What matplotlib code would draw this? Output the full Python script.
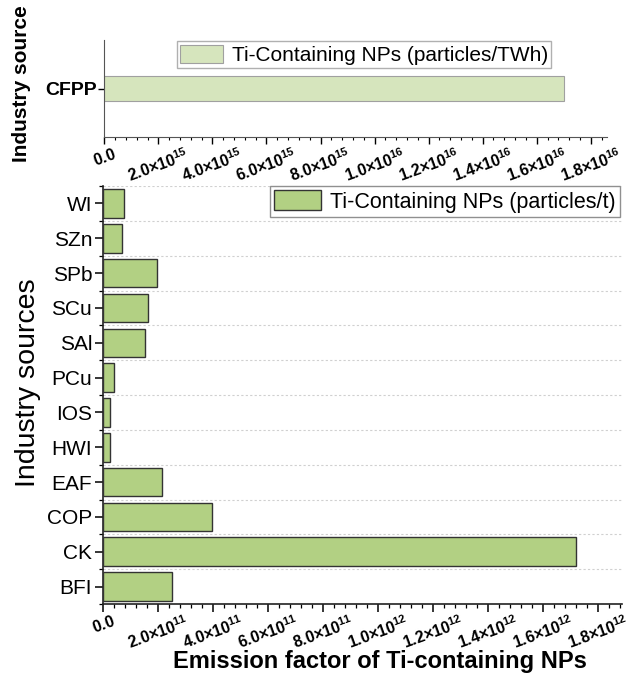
import matplotlib
matplotlib.use('Agg')
from matplotlib import pyplot as plt
from matplotlib.ticker import FuncFormatter, MultipleLocator, FixedLocator
import numpy as np

plt.rcParams['font.family'] = ['Liberation Sans', 'DejaVu Sans']
plt.rcParams['mathtext.fontset'] = 'custom'
plt.rcParams['mathtext.rm'] = 'Liberation Sans'
plt.rcParams['mathtext.bf'] = 'Liberation Sans:bold'

# data
top_source = ['CFPP']
top_values = [1.70e16]
top_legend = 'Ti-Containing NPs (particles/TWh)'

sources = ['BFI', 'CK', 'COP', 'EAF', 'HWI', 'IOS', 'PCu', 'SAl', 'SCu', 'SPb', 'SZn', 'WI']
values = [2.51e11, 1.72e12, 3.95e11, 2.15e11, 0.24e11, 0.24e11, 0.39e11,
          1.50e11, 1.64e11, 1.96e11, 0.69e11, 0.76e11]
bottom_legend = 'Ti-Containing NPs (particles/t)'

xlabel = 'Emission factor of Ti-containing NPs'


def sci_fmt(v, pos):
    if v == 0:
        return r'$\mathbf{0.0}$'
    e = int(np.floor(np.log10(abs(v)) + 1e-9))
    m = v / 10 ** e
    return r'$\mathbf{%.1f{\times}10^{%d}}$' % (m, e)


fig = plt.figure(figsize=(6.39, 6.73), dpi=100)

# ---- top panel ----
ax1 = fig.add_axes([0.1632, 0.7964, 0.7867, 0.1441])
ax1.barh(top_source, top_values, height=0.25, color='#d6e5bd',
         edgecolor='#a0a0a0', linewidth=0.8, label=top_legend)
ax1.set_xlim(0, 1.86e16)
ax1.set_ylim(-0.5, 0.5)
ax1.xaxis.set_major_locator(MultipleLocator(2e15))
ax1.xaxis.set_minor_locator(MultipleLocator(4e14))
ax1.xaxis.set_major_formatter(FuncFormatter(sci_fmt))
for s in ['top', 'right']:
    ax1.spines[s].set_visible(False)
for s in ['left', 'bottom']:
    ax1.spines[s].set_color('#555555')
ax1.tick_params(axis='x', which='major', length=5, width=1, labelsize=11.5,
                labelrotation=20, pad=1)
ax1.tick_params(axis='x', which='minor', length=2.5, width=0.8)
ax1.tick_params(axis='y', which='major', length=4, width=1, labelsize=14, pad=1)
for t in ax1.get_yticklabels():
    t.set_fontweight('bold')
ax1.set_ylabel('Industry source', fontsize=15, fontweight='bold')
ax1.yaxis.set_label_coords(-0.145, 0.55)
ax1.legend(loc='upper right', bbox_to_anchor=(0.889, 0.985), fontsize=15,
           fancybox=False, edgecolor='#b0b0b0', framealpha=1,
           handlelength=2.1, handleheight=1.0, borderpad=0.15,
           handletextpad=0.4, borderaxespad=0)

# ---- bottom panel ----
ax2 = fig.add_axes([0.1617, 0.1025, 0.8117, 0.621])
y = np.arange(len(sources))
ax2.barh(y, values, height=0.82, color='#b2d083', edgecolor='#333333',
         linewidth=1.0, label=bottom_legend, zorder=3)
ax2.set_xlim(0, 1.886e12)
ax2.set_ylim(-0.5, len(sources) - 0.5)
ax2.set_yticks(y)
ax2.set_yticklabels(sources)
ax2.yaxis.set_minor_locator(FixedLocator(np.arange(-0.5, len(sources), 1.0)))
ax2.xaxis.set_major_locator(MultipleLocator(2e11))
ax2.xaxis.set_minor_locator(MultipleLocator(4e10))
ax2.xaxis.set_major_formatter(FuncFormatter(sci_fmt))
ax2.grid(axis='y', which='minor', linestyle=(0, (2, 2)), color='#d0d0d0',
         linewidth=0.8, zorder=0)
for s in ['top', 'right']:
    ax2.spines[s].set_visible(False)
for s in ['left', 'bottom']:
    ax2.spines[s].set_color('#222222')
    ax2.spines[s].set_linewidth(1.2)
ax2.tick_params(axis='x', which='major', length=6, width=1.1, labelsize=11.5,
                labelrotation=20, pad=0)
ax2.tick_params(axis='x', which='minor', length=3, width=0.9)
ax2.tick_params(axis='y', which='major', length=6, width=1.1, labelsize=15, pad=2)
ax2.tick_params(axis='y', which='minor', length=3, width=0.9)
ax2.set_ylabel('Industry sources', fontsize=20.5)
ax2.yaxis.set_label_coords(-0.12, 0.53)
ax2.set_xlabel(xlabel, fontsize=17, fontweight='bold')
ax2.xaxis.set_label_coords(0.534, -0.138)
ax2.xaxis.label.set_va('center')
ax2.legend(loc='upper right', bbox_to_anchor=(0.9962, 1.0), fontsize=15.5,
           fancybox=False, edgecolor='#909090', framealpha=1,
           handlelength=2.2, handleheight=1.05, borderpad=0.2,
           handletextpad=0.4, borderaxespad=0)

fig.savefig('out.png', dpi=100)
